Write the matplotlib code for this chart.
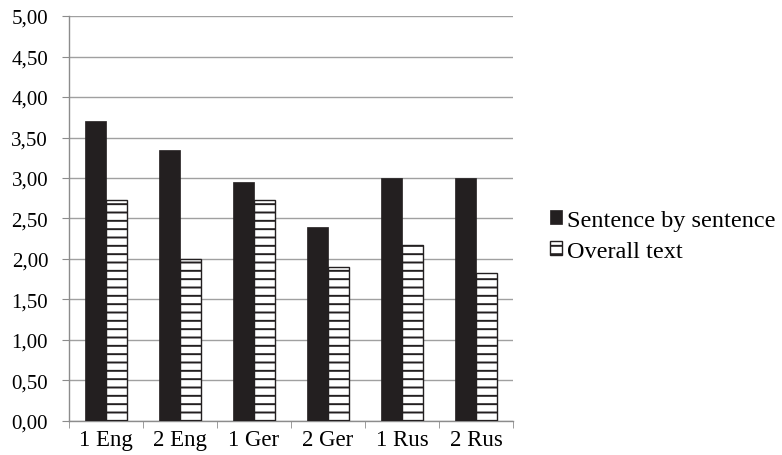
import numpy as np
from matplotlib import pyplot as plt

categories = ["1 Eng", "2 Eng", "1 Ger", "2 Ger", "1 Rus", "2 Rus"]
sentence_by_sentence = [3.70, 3.35, 2.95, 2.40, 3.00, 3.00]
overall_text = [2.73, 2.00, 2.73, 1.90, 2.17, 1.83]
y_ticks = [0.0, 0.5, 1.0, 1.5, 2.0, 2.5, 3.0, 3.5, 4.0, 4.5, 5.0]


def main():
    plt.rcParams['font.family'] = ['Liberation Serif', 'DejaVu Serif']
    plt.rcParams['hatch.linewidth'] = 1.4

    fig = plt.figure(figsize=(7.82, 4.56), dpi=100)
    ax = fig.add_axes([0.0882, 0.0746, 0.5678, 0.8881])

    x = np.arange(len(categories))
    width = 0.285
    ax.bar(x - width / 2, sentence_by_sentence, width, color='#231f20',
           edgecolor='#231f20', linewidth=0.5, label="Sentence by sentence", zorder=3)
    ax.bar(x + width / 2, overall_text, width, color='white', hatch='--',
           edgecolor='#231f20', linewidth=1.0, label="Overall text", zorder=3)

    ax.set_xlim(-0.5, len(categories) - 0.5)
    ax.set_ylim(0, 5)
    ax.set_yticks(y_ticks)
    ax.set_yticklabels([f"{v:.2f}".replace(".", ",") for v in y_ticks])
    ax.set_xticks(x)
    ax.set_xticklabels(categories)
    ax.set_xticks(np.arange(len(categories) + 1) - 0.5, minor=True)

    ax.grid(axis='y', color='#a0a0a0', linewidth=1.0, zorder=0)
    for side in ('top', 'right'):
        ax.spines[side].set_visible(False)
    for side in ('left', 'bottom'):
        ax.spines[side].set_color('#8c8c8c')
        ax.spines[side].set_linewidth(1.0)

    ax.tick_params(axis='y', length=5, color='#8c8c8c', labelsize=15, pad=10)
    ax.tick_params(axis='x', which='major', length=0, labelsize=16.5, pad=6)
    ax.tick_params(axis='x', which='minor', length=5, color='#8c8c8c')

    ax.legend(loc='center left', bbox_to_anchor=(1.083, 0.457), frameon=False,
              fontsize=17.5, handlelength=0.5, handleheight=0.5, handletextpad=0.2,
              labelspacing=0.42, borderaxespad=0, borderpad=0)

    fig.savefig("out.png", dpi=100)


if __name__ == '__main__':
    main()
